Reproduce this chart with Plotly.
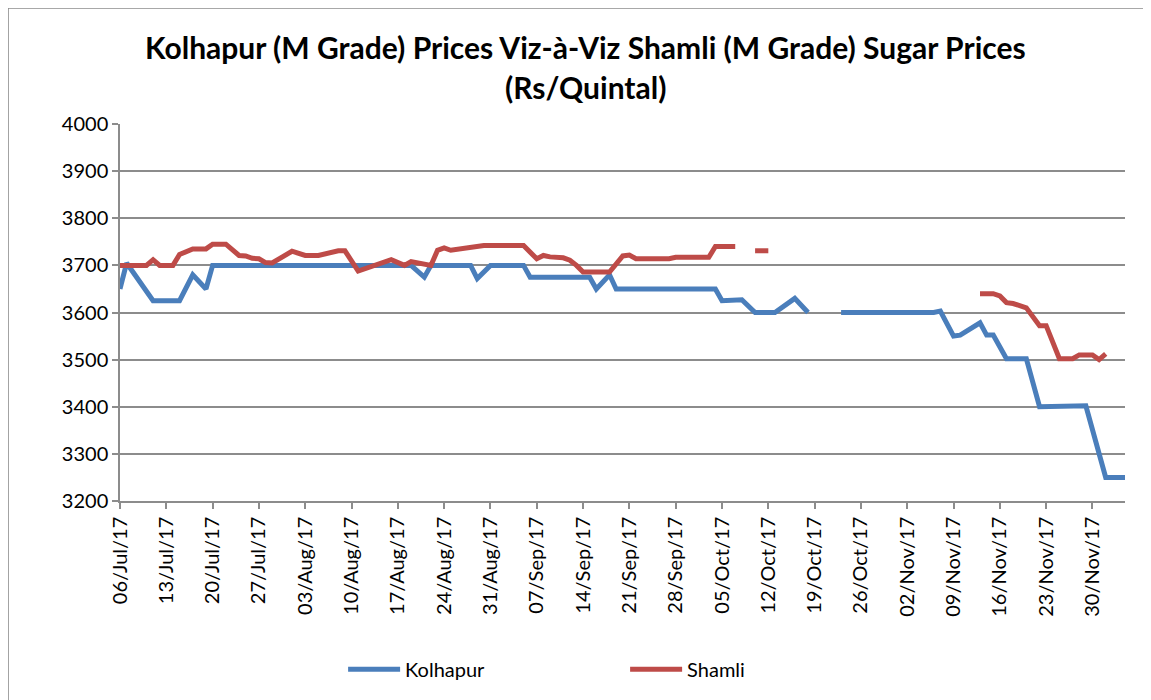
import plotly.graph_objects as go

kol_dates = ["2017-07-06", "2017-07-07", "2017-07-11", "2017-07-15", "2017-07-17", "2017-07-19",
             "2017-07-20", "2017-08-19", "2017-08-21", "2017-08-22", "2017-08-28", "2017-08-29",
             "2017-08-31", "2017-09-05", "2017-09-06", "2017-09-15", "2017-09-16", "2017-09-18",
             "2017-09-19", "2017-10-04", "2017-10-05", "2017-10-08", "2017-10-10", "2017-10-13",
             "2017-10-16", "2017-10-18", "2017-10-19", "2017-10-23", "2017-11-06", "2017-11-07",
             "2017-11-09", "2017-11-10", "2017-11-13", "2017-11-14", "2017-11-15", "2017-11-17",
             "2017-11-20", "2017-11-22", "2017-11-29", "2017-12-02", "2017-12-05"]
kol_values = [3650, 3705, 3625, 3625, 3680, 3650,
              3700, 3700, 3675, 3700, 3700, 3672,
              3700, 3700, 3675, 3675, 3650, 3680,
              3650, 3650, 3625, 3627, 3600, 3600,
              3630, 3600, None, 3600, 3600, 3603,
              3550, 3552, 3578, 3552, 3552, 3502,
              3502, 3400, 3402, 3250, 3250]

sham_dates = ["2017-07-06", "2017-07-10", "2017-07-11", "2017-07-12", "2017-07-14", "2017-07-15",
              "2017-07-17", "2017-07-19", "2017-07-20", "2017-07-22", "2017-07-24", "2017-07-25",
              "2017-07-26", "2017-07-27", "2017-07-28", "2017-07-29", "2017-08-01", "2017-08-03",
              "2017-08-05", "2017-08-08", "2017-08-09", "2017-08-11", "2017-08-16", "2017-08-18",
              "2017-08-19", "2017-08-21", "2017-08-22", "2017-08-23", "2017-08-24", "2017-08-25",
              "2017-08-28", "2017-08-30", "2017-09-05", "2017-09-07", "2017-09-08", "2017-09-09",
              "2017-09-11", "2017-09-12", "2017-09-13", "2017-09-14", "2017-09-18", "2017-09-20",
              "2017-09-21", "2017-09-22", "2017-09-27", "2017-09-28", "2017-10-03", "2017-10-04",
              "2017-10-07", "2017-10-08", "2017-10-10", "2017-10-12", "2017-10-13", "2017-11-13",
              "2017-11-15", "2017-11-16", "2017-11-17", "2017-11-18", "2017-11-20", "2017-11-22",
              "2017-11-23", "2017-11-25", "2017-11-27", "2017-11-28", "2017-11-30", "2017-12-01",
              "2017-12-02"]
sham_values = [3700, 3700, 3712, 3700, 3700, 3723,
               3735, 3735, 3745, 3745, 3721, 3720,
               3715, 3714, 3706, 3705, 3730, 3721,
               3721, 3731, 3731, 3688, 3712, 3700,
               3708, 3702, 3700, 3732, 3737, 3732,
               3737, 3742, 3742, 3714, 3721, 3718,
               3716, 3711, 3700, 3686, 3686, 3720,
               3722, 3714, 3714, 3717, 3717, 3740,
               3740, None, 3731, 3731, None, 3640,
               3640, 3635, 3621, 3619, 3610, 3572,
               3572, 3502, 3502, 3510, 3510, 3500,
               3512]

y_ticks = [3200, 3300, 3400, 3500, 3600, 3700, 3800, 3900, 4000]

FONT = "Lato"
BLUE = "#4A7EBB"
RED = "#BE4B48"
GRID = "#8c8c8c"

fig = go.Figure()
fig.add_trace(go.Scatter(x=kol_dates, y=kol_values, mode="lines", name="Kolhapur",
                         line=dict(color=BLUE, width=5, shape="linear"),
                         connectgaps=False))
fig.add_trace(go.Scatter(x=sham_dates, y=sham_values, mode="lines", name="Shamli",
                         line=dict(color=RED, width=5, shape="linear"),
                         connectgaps=False))

fig.update_layout(
    width=1143, height=692,
    margin=dict(l=112, r=26, t=116, b=199),
    paper_bgcolor="white", plot_bgcolor="white",
    font=dict(family=FONT, size=20, color="black"),
    showlegend=True,
    legend=dict(orientation="h", x=0.222, xanchor="left", y=-0.446, yanchor="middle",
                entrywidth=215, entrywidthmode="pixels",
                font=dict(family=FONT, size=20, color="black"), itemwidth=52),
    xaxis=dict(type="date", range=["2017-07-06", "2017-12-04 22:00"],
               tick0="2017-07-06", dtick=7 * 86400000, tickformat="%d/%b/%y",
               tickangle=-90, showgrid=False, showline=True, linecolor=GRID, linewidth=1.5,
               ticks="outside", ticklen=6, tickcolor=GRID, tickwidth=1.5,
               tickfont=dict(family=FONT, size=20, color="black"), zeroline=False),
    yaxis=dict(range=[3200, 4000], tickvals=y_ticks, showgrid=True, gridcolor=GRID,
               gridwidth=1.5, showline=True, linecolor=GRID, linewidth=1.5,
               ticks="outside", ticklen=6, tickcolor=GRID, tickwidth=1.5,
               tickfont=dict(family=FONT, size=20, color="black"), zeroline=False),
    annotations=[
        dict(text="<b>Kolhapur (M Grade) Prices Viz-à-Viz Shamli (M Grade) Sugar Prices</b>",
             xref="paper", yref="paper", x=0.4627, y=1.204, xanchor="center", yanchor="middle",
             showarrow=False, font=dict(family=FONT, size=30, color="black")),
        dict(text="<b>(Rs/Quintal)</b>",
             xref="paper", yref="paper", x=0.4627, y=1.098, xanchor="center", yanchor="middle",
             showarrow=False, font=dict(family=FONT, size=30, color="black")),
    ],
    shapes=[dict(type="rect", xref="paper", yref="paper", x0=-0.1114, x1=1.0219, y0=-0.7, y1=1.3077,
                 line=dict(color=GRID, width=1.5), fillcolor="rgba(0,0,0,0)", layer="below")],
)

fig.write_html("out.html")
